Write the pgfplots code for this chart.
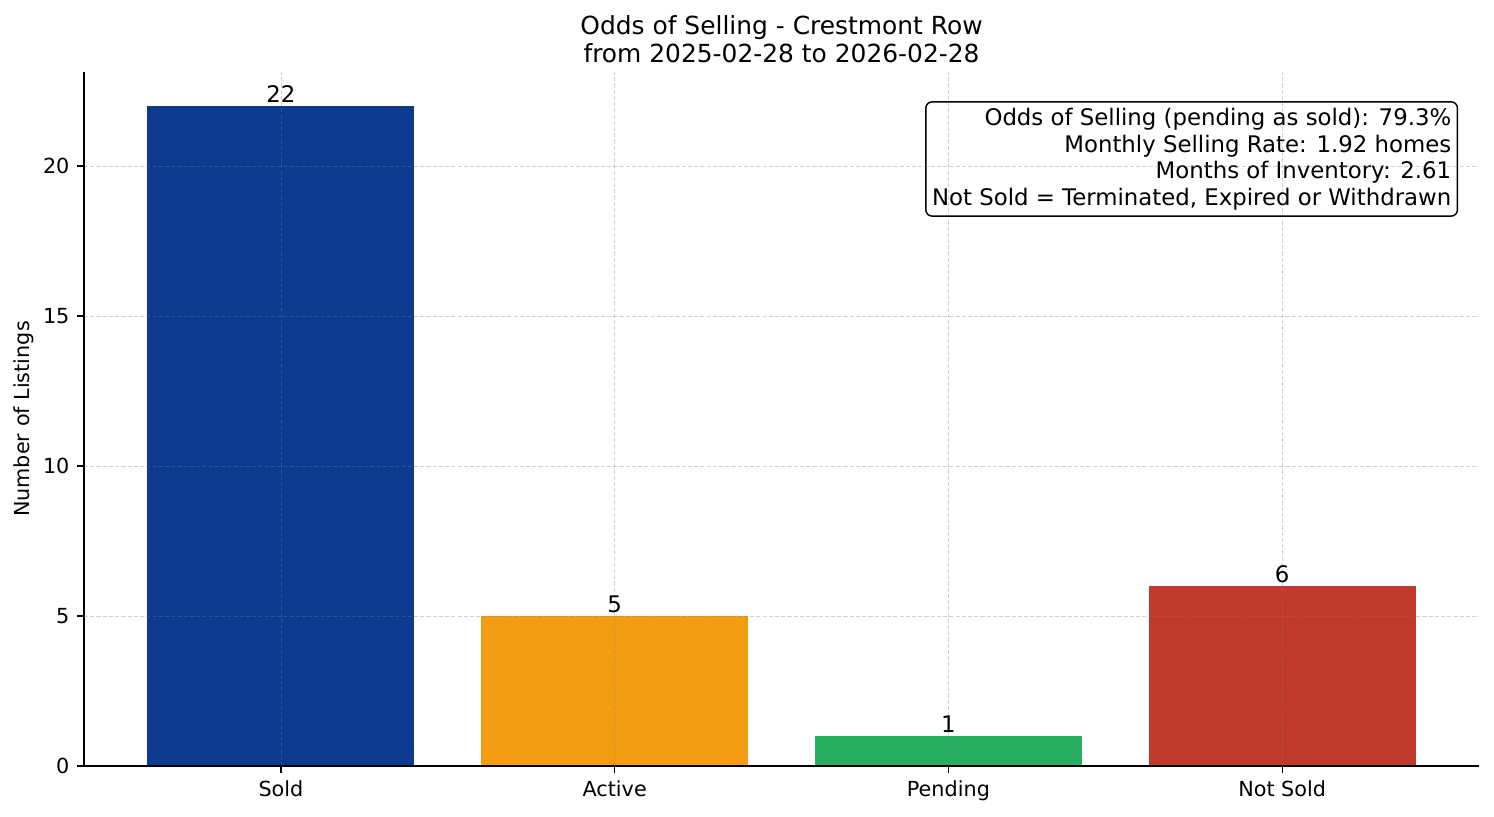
\documentclass[border=0pt]{standalone}
\usepackage{fontspec}
\setmainfont{DejaVu Sans}
\usepackage{pgfplots}
\pgfplotsset{compat=1.18}

\definecolor{soldc}{HTML}{0B3A8E}
\definecolor{activec}{HTML}{F39C12}
\definecolor{pendc}{HTML}{27AE60}
\definecolor{notc}{HTML}{C0392B}

\begin{document}
\begin{tikzpicture}
\useasboundingbox (0,0) rectangle (720pt,393.3pt);
\begin{axis}[
  at={(40.5pt,24.1pt)}, anchor=south west,
  scale only axis, width=672.3pt, height=334.5pt,
  axis x line*=bottom, axis y line*=left,
  axis line style={line width=0.6pt, black},
  ybar, bar width=0.8,
  xmin=-0.59, xmax=3.59, ymin=0, ymax=23.13,
  xtick={0,1,2,3}, xticklabels={Sold, Active, Pending, Not Sold},
  ytick={0,5,10,15,20},
  tick align=outside, major tick length=3.5pt,
  tick style={black, line width=0.6pt},
  ticklabel style={font=\fontsize{10}{12}\selectfont},
  /pgf/number format/assume math mode=true,
  xmajorgrids, ymajorgrids,
  grid style={gray, opacity=0.35, dash pattern=on 2pt off 1pt, line width=0.3pt},
  axis on top,
  title={Odds of Selling - Crestmont Row\\from 2025-02-28 to 2026-02-28},
  title style={align=center, font=\fontsize{12}{13.5}\selectfont, at={(0.5,1)}, anchor=south, yshift=-5pt},
  ylabel={Number of Listings},
  ylabel style={font=\fontsize{10}{12}\selectfont, at={(axis description cs:-0.043,0.5)}, anchor=center},
  nodes near coords,
  every node near coord/.append style={font=\fontsize{11}{13}\selectfont, black, yshift=-2pt},
]
\addplot[fill=soldc, draw=none, bar shift=0pt] coordinates {(0,22)};
\addplot[fill=activec, draw=none, bar shift=0pt] coordinates {(1,5)};
\addplot[fill=pendc, draw=none, bar shift=0pt] coordinates {(2,1)};
\addplot[fill=notc, draw=none, bar shift=0pt] coordinates {(3,6)};
\node[draw=black, line width=0.7pt, rounded corners=3pt, fill=white, align=right,
  inner sep=3pt, anchor=north east, font=\fontsize{11}{12.8}\selectfont]
  at (axis description cs:0.985,0.958)
  {Odds of Selling (pending as sold): 79.3\%\\
   Monthly Selling Rate: 1.92 homes\\
   Months of Inventory: 2.61\\
   Not Sold = Terminated, Expired or Withdrawn};
\end{axis}
\end{tikzpicture}
\end{document}
